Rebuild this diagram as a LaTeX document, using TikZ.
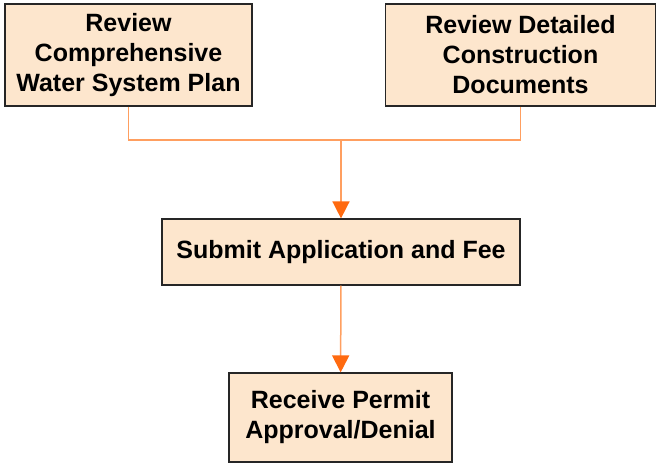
\documentclass[tikz,border=0pt]{standalone}
\usepackage{fontspec}
\setmainfont{Liberation Sans}
\usetikzlibrary{arrows.meta}
\definecolor{boxfill}{HTML}{FDE6CD}
\definecolor{linkline}{HTML}{FF9F60}
\definecolor{tipfill}{HTML}{FF6A10}

\begin{document}
\begin{tikzpicture}[x=1pt,y=-1pt,
	main_node/.style={rectangle,fill=boxfill,draw=black!85,line width=1.2pt,align=center,inner sep=0pt,
		font=\fontsize{25}{30}\selectfont\bfseries},
	link/.style={draw=linkline,line width=1.5pt},
	flow/.style={link,-{Triangle[width=17pt,length=17pt,color=tipfill]}}]
	\useasboundingbox (0,0) rectangle (657,464);
	\node[main_node,minimum width=247pt,minimum height=102pt] (plan) at (128.5,55) {Review\\Comprehensive\\Water System Plan};
	\node[main_node,minimum width=270pt,minimum height=102pt] (docs) at (520.5,55) {Review Detailed\\Construction\\Documents};
	\node[main_node,minimum width=358pt,minimum height=66pt] (submit) at (341,252) {Submit Application and Fee};
	\node[main_node,minimum width=223pt,minimum height=89pt] (permit) at (340.5,417.5) {Receive Permit\\Approval/Denial};
	\coordinate (join) at (341,140);
	
	\draw[link] (plan.south) |- (join);
	\draw[link] (docs.south) |- (join);
	\draw[flow] (join) -- (submit);
	\draw[flow] (submit) -- (permit);
\end{tikzpicture}
\end{document}
